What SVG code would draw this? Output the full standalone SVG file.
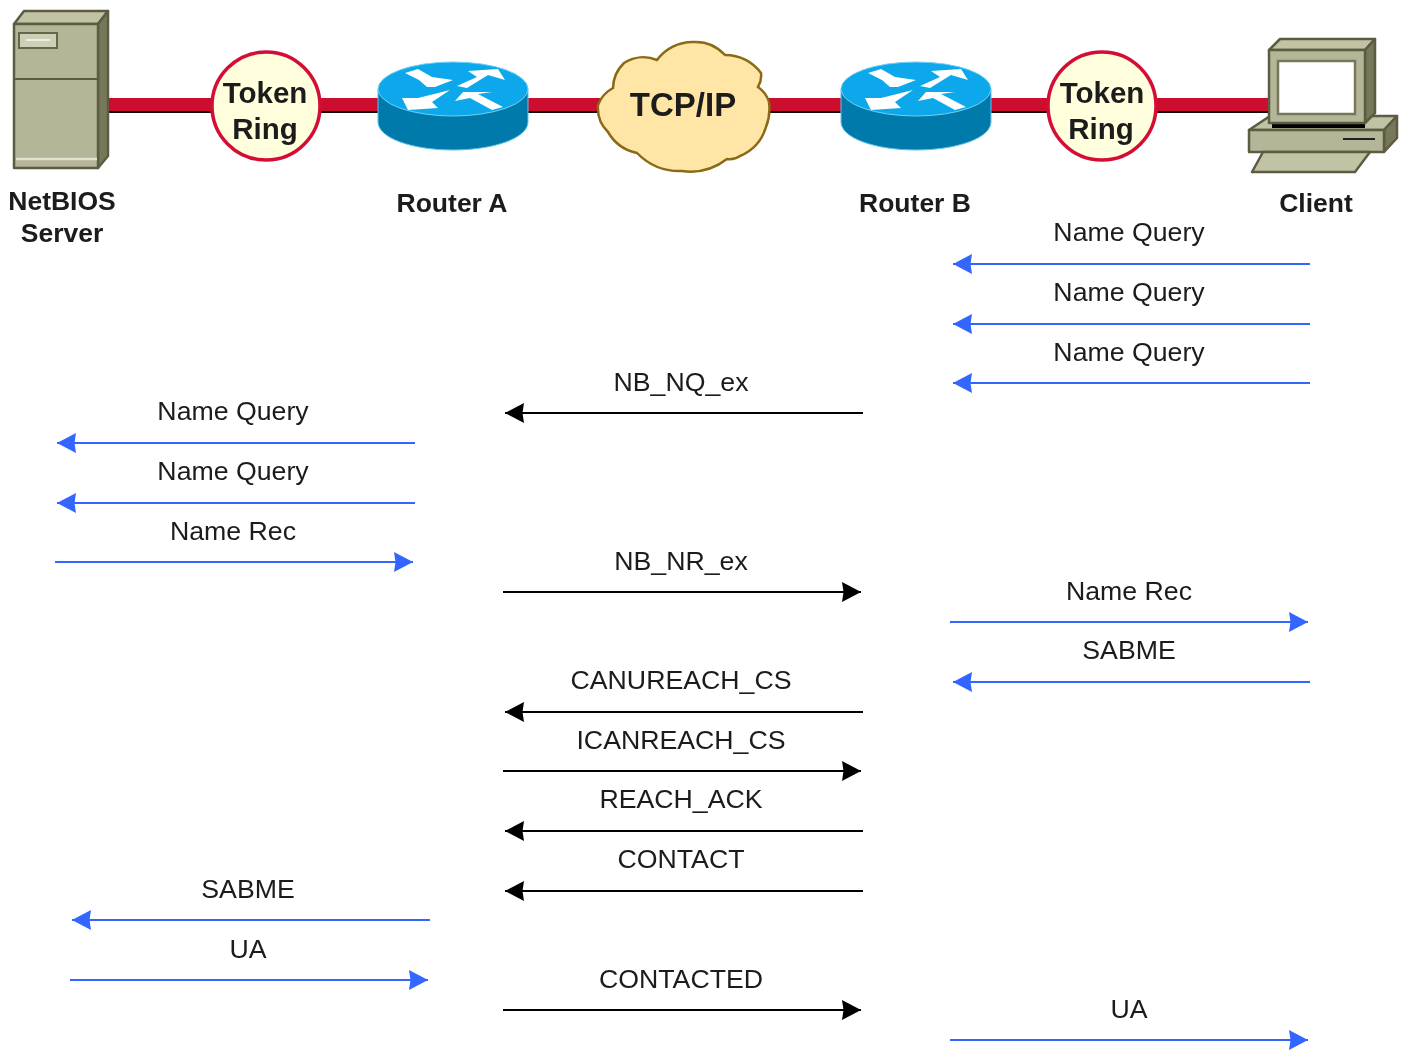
<svg xmlns="http://www.w3.org/2000/svg" width="1407" height="1050" viewBox="0 0 1407 1050">
<style>
text{font-family:"Liberation Sans",Arial,sans-serif;fill:#1a1a1a;text-anchor:middle}
.l{font-size:26.7px}
.b{font-size:26.5px;font-weight:bold}
.r{font-size:29.5px;font-weight:bold}
.c{font-size:33px;font-weight:bold}
.blue{stroke:#3366ff;stroke-width:2;fill:none}
.blk{stroke:#000;stroke-width:2;fill:none}
.ol{stroke:#5c5c42;stroke-width:2.5;stroke-linejoin:round}
</style>
<defs>
<filter id="soft" x="-2%" y="-2%" width="104%" height="104%"><feGaussianBlur stdDeviation="0.7"/></filter>
<marker id="ab" markerUnits="userSpaceOnUse" markerWidth="24" markerHeight="24" refX="21" refY="12" orient="auto-start-reverse"><path d="M2 2L21 12L2 22L3.5 12Z" fill="#3366ff"/></marker>
<marker id="ak" markerUnits="userSpaceOnUse" markerWidth="24" markerHeight="24" refX="21" refY="12" orient="auto-start-reverse"><path d="M2 2L21 12L2 22L3.5 12Z" fill="#000"/></marker>
<g id="routerIcon">
<path d="M378 89V122C378 138 412 150 453 150S528 138 528 122V89Z" fill="#0679ab" stroke="#5fc3ea" stroke-width="1"/>
<ellipse cx="453" cy="89" rx="75" ry="27" fill="#0aa8ec" stroke="#6fd0f5" stroke-width="1"/>
<g fill="#fff">
<path d="M405 73L418 69L432 77L453 80L435 87L427 87L419 80Z"/>
<path d="M457 86L477 77L468 71L498 69L505 80L488 75L467 88Z"/>
<path d="M402 98L418 98L450 90L432 102L438 108L408 110Z"/>
<path d="M455 101L463 92L492 92L478 94L503 107L492 110L470 98Z"/>
</g>
</g>
<g id="ringIcon">
<circle r="54" fill="#ffffdd" stroke="#d40c36" stroke-width="3.5"/>
</g>
</defs>
<g filter="url(#soft)">
<g id="connectors">
<g id="links" fill="#cc0a2e">
<rect x="108" y="98" width="1165" height="13"/>
<rect x="108" y="111" width="1165" height="2" fill="#111"/>
</g>
<g id="blue-arrows">
<path class="blue" marker-end="url(#ab)" d="M1310 264H953"/>
<path class="blue" marker-end="url(#ab)" d="M1310 324H953"/>
<path class="blue" marker-end="url(#ab)" d="M1310 383H953"/>
<path class="blue" marker-end="url(#ab)" d="M415 443H57"/>
<path class="blue" marker-end="url(#ab)" d="M415 503H57"/>
<path class="blue" marker-end="url(#ab)" d="M55 562H413"/>
<path class="blue" marker-end="url(#ab)" d="M950 622H1308"/>
<path class="blue" marker-end="url(#ab)" d="M1310 682H953"/>
<path class="blue" marker-end="url(#ab)" d="M430 920H72"/>
<path class="blue" marker-end="url(#ab)" d="M70 980H428"/>
<path class="blue" marker-end="url(#ab)" d="M950 1040H1308"/>
</g>
<g id="black-arrows">
<path class="blk" marker-end="url(#ak)" d="M863 413H505"/>
<path class="blk" marker-end="url(#ak)" d="M503 592H861"/>
<path class="blk" marker-end="url(#ak)" d="M863 712H505"/>
<path class="blk" marker-end="url(#ak)" d="M503 771H861"/>
<path class="blk" marker-end="url(#ak)" d="M863 831H505"/>
<path class="blk" marker-end="url(#ak)" d="M863 891H505"/>
<path class="blk" marker-end="url(#ak)" d="M503 1010H861"/>
</g>
</g>
<g id="server">
<path class="ol" d="M14 24L24 11H108L98 24Z" fill="#c2c2a4"/>
<path class="ol" d="M98 24L108 11V156L98 168Z" fill="#77775a"/>
<rect class="ol" x="14" y="24" width="84" height="144" fill="#b5b598"/>
<path d="M15 79H98" stroke="#5c5c42" stroke-width="2"/>
<path d="M16 159H97" stroke="#e2e2cf" stroke-width="2.5"/>
<rect x="19" y="33" width="38" height="15" fill="#cfcfb8" stroke="#66664a" stroke-width="2"/>
<path d="M26 40H50" stroke="#eeeee0" stroke-width="2"/>
<text class="b" x="62" y="210">NetBIOS</text>
<text class="b" x="62" y="242">Server</text>
</g>
<g id="ring-left">
<use href="#ringIcon" x="266" y="106"/>
<text class="r" x="265" y="103">Token</text>
<text class="r" x="265" y="139">Ring</text>
</g>
<g id="router-a">
<use href="#routerIcon"/>
<text class="b" x="452" y="212">Router A</text>
</g>
<g id="cloud">
<path d="M598 105A32 32 0 0 1 613 88A36 36 0 0 1 624 63A36 36 0 0 1 657 60A44 44 0 0 1 693 42A40 40 0 0 1 725 55A44 44 0 0 1 761 73A22 22 0 0 1 758 87A28 28 0 0 1 769 102A50 50 0 0 1 766 127A46 46 0 0 1 740 156A18 18 0 0 1 727 159A60 60 0 0 1 682 171A60 60 0 0 1 637 153A44 44 0 0 1 608 132A34 34 0 0 1 598 105Z" fill="#ffe6a6" stroke="#8a6a14" stroke-width="2.5"/>
<text class="c" x="683" y="116">TCP/IP</text>
</g>
<g id="router-b">
<use href="#routerIcon" x="463"/>
<text class="b" x="915" y="212">Router B</text>
</g>
<g id="ring-right">
<use href="#ringIcon" x="1102" y="106"/>
<text class="r" x="1102" y="103">Token</text>
<text class="r" x="1101" y="139">Ring</text>
</g>
<g id="client">
<path class="ol" d="M1249 130L1270 116H1397L1384 130Z" fill="#c2c2a4"/>
<path class="ol" d="M1384 130L1397 116V138L1384 152Z" fill="#77775a"/>
<rect class="ol" x="1249" y="130" width="135" height="22" fill="#b5b598"/>
<path d="M1343 139H1375" stroke="#222" stroke-width="2"/>
<path class="ol" d="M1252 172L1263 152H1370L1355 172Z" fill="#c2c2a4"/>
<rect x="1272" y="123" width="93" height="5" fill="#000"/>
<path class="ol" d="M1269 50L1280 39H1375L1365 50Z" fill="#c2c2a4"/>
<path class="ol" d="M1365 50L1375 39V113L1365 123Z" fill="#77775a"/>
<rect class="ol" x="1269" y="50" width="96" height="73" fill="#b5b598"/>
<rect x="1278" y="61" width="77" height="53" fill="#fff" stroke="#77775a" stroke-width="2.5"/>
<text class="b" x="1316" y="212">Client</text>
</g>
<g id="labels">
<text class="l" x="1129" y="241">Name Query</text>
<text class="l" x="1129" y="301">Name Query</text>
<text class="l" x="1129" y="361">Name Query</text>
<text class="l" x="681" y="391">NB_NQ_ex</text>
<text class="l" x="233" y="420">Name Query</text>
<text class="l" x="233" y="480">Name Query</text>
<text class="l" x="233" y="540">Name Rec</text>
<text class="l" x="681" y="570">NB_NR_ex</text>
<text class="l" x="1129" y="600">Name Rec</text>
<text class="l" x="1129" y="659">SABME</text>
<text class="l" x="681" y="689">CANUREACH_CS</text>
<text class="l" x="681" y="749">ICANREACH_CS</text>
<text class="l" x="681" y="808">REACH_ACK</text>
<text class="l" x="681" y="868">CONTACT</text>
<text class="l" x="248" y="898">SABME</text>
<text class="l" x="248" y="958">UA</text>
<text class="l" x="681" y="988">CONTACTED</text>
<text class="l" x="1129" y="1018">UA</text>
</g>
</g>
</svg>
